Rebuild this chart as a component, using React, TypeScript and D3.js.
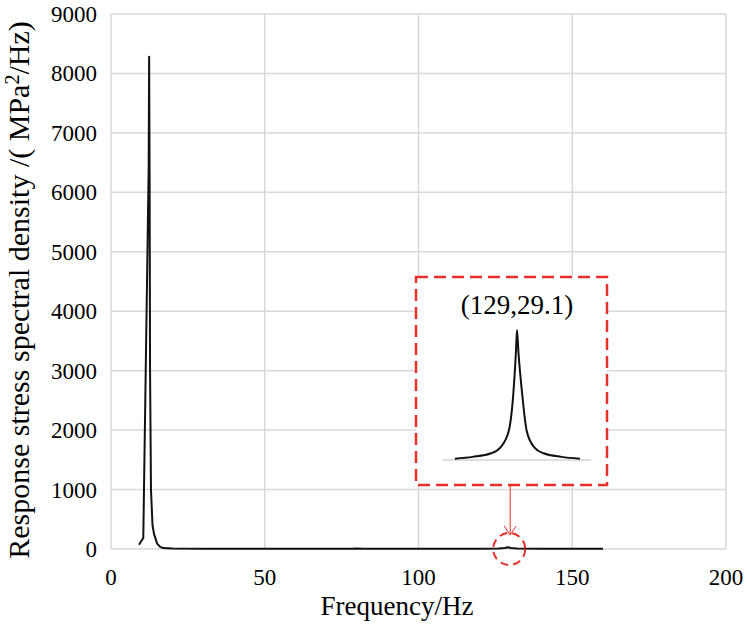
import { useEffect, useRef } from "react";
import * as d3 from "d3";

// main response spectrum (Hz, MPa^2/Hz)
const freq = [9.1, 10.5, 12.25, 12.4, 12.55, 12.7, 13.0, 13.5, 14.0, 15.0, 16.0, 17.0, 20, 30, 50, 70, 78, 80, 82, 100, 120, 126, 128, 129, 130, 132, 140, 160];
const psd = [70, 185, 6400, 8280, 6350, 3000, 1000, 400, 250, 90, 35, 15, 10, 6, 4, 4, 6, 9, 5, 4, 4, 8, 18, 29.1, 18, 8, 4, 3];

// zoomed detail around the 129 Hz peak
const insetFreq = [120.6, 123, 125.5, 126.8, 127.9, 128.5, 128.85, 129, 129.2, 129.7, 130.3, 131.3, 132.6, 135, 137.5];
const insetPsd = [0.3, 0.7, 1.5, 2.9, 6.6, 14.8, 24, 29.1, 24, 14.8, 6.6, 2.9, 1.5, 0.7, 0.3];

const xTicks = [0, 50, 100, 150, 200];
const yTicks = [0, 1000, 2000, 3000, 4000, 5000, 6000, 7000, 8000, 9000];

const peakLabel = "(129,29.1)";
const xTitle = "Frequency/Hz";

const W = 747;
const H = 626;
const font = "'Liberation Serif', 'Times New Roman', serif";
const red = "#e8302a";
const gridColor = "#d9d9d9";

export default function App() {
  const ref = useRef<SVGSVGElement>(null);

  useEffect(() => {
    const svg = d3.select(ref.current);
    svg.selectAll("*").remove();

    const x = d3.scaleLinear().domain([0, 200]).range([111, 726]);
    const y = d3.scaleLinear().domain([0, 9000]).range([549, 14]);

    const g = svg.append("g");

    // grid
    g.selectAll("line.gx")
      .data(xTicks)
      .join("line")
      .attr("x1", (d) => x(d))
      .attr("x2", (d) => x(d))
      .attr("y1", y(0))
      .attr("y2", y(9000))
      .attr("stroke", gridColor)
      .attr("stroke-width", 1.5);

    g.selectAll("line.gy")
      .data(yTicks)
      .join("line")
      .attr("x1", x(0))
      .attr("x2", x(200))
      .attr("y1", (d) => y(d))
      .attr("y2", (d) => y(d))
      .attr("stroke", gridColor)
      .attr("stroke-width", 1.5);

    // tick labels
    g.selectAll("text.xt")
      .data(xTicks)
      .join("text")
      .attr("x", (d) => x(d))
      .attr("y", 585)
      .attr("text-anchor", "middle")
      .attr("font-family", font)
      .attr("font-size", 23)
      .text((d) => d);

    g.selectAll("text.yt")
      .data(yTicks)
      .join("text")
      .attr("x", 97)
      .attr("y", (d) => y(d) + 8)
      .attr("text-anchor", "end")
      .attr("font-family", font)
      .attr("font-size", 23)
      .text((d) => d);

    // axis titles
    g.append("text")
      .attr("x", 397)
      .attr("y", 615)
      .attr("text-anchor", "middle")
      .attr("font-family", font)
      .attr("font-size", 27)
      .text(xTitle);

    const yt = g
      .append("text")
      .attr("transform", `translate(29,290) rotate(-90)`)
      .attr("text-anchor", "middle")
      .attr("font-family", font)
      .attr("font-size", 30);
    yt.append("tspan").text("Response stress spectral density /( MPa");
    yt.append("tspan").attr("dy", -10).attr("font-size", 20).text("2");
    yt.append("tspan").attr("dy", 10).text("/Hz)");

    // main curve
    const data = freq.map((f, i) => [f, psd[i]] as [number, number]);
    g.append("path")
      .datum(data)
      .attr("fill", "none")
      .attr("stroke", "#111")
      .attr("stroke-width", 2)
      .attr("stroke-linejoin", "round")
      .attr("d", d3.line<[number, number]>().x((d) => x(d[0])).y((d) => y(d[1])));

    // inset
    const ix = d3.scaleLinear().domain([119, 139]).range([443, 591]);
    const iy = d3.scaleLinear().domain([0, 29.1]).range([460, 330]);

    g.append("rect")
      .attr("x", 416)
      .attr("y", 277)
      .attr("width", 191)
      .attr("height", 208)
      .attr("fill", "white")
      .attr("stroke", red)
      .attr("stroke-width", 2.5)
      .attr("stroke-dasharray", "12,6");

    g.append("line")
      .attr("x1", ix(119))
      .attr("x2", ix(139))
      .attr("y1", iy(0))
      .attr("y2", iy(0))
      .attr("stroke", "#bbb")
      .attr("stroke-width", 1.2);

    const insetData = insetFreq.map((f, i) => [f, insetPsd[i]] as [number, number]);
    g.append("path")
      .datum(insetData)
      .attr("fill", "none")
      .attr("stroke", "#111")
      .attr("stroke-width", 2)
      .attr(
        "d",
        d3
          .line<[number, number]>()
          .x((d) => ix(d[0]))
          .y((d) => iy(d[1]))
          .curve(d3.curveMonotoneX)
      );

    g.append("text")
      .attr("x", ix(129))
      .attr("y", 314)
      .attr("text-anchor", "middle")
      .attr("font-family", font)
      .attr("font-size", 27)
      .text(peakLabel);

    // pointer to the small peak
    const cx = x(129.5);
    const cy = y(0);
    g.append("line")
      .attr("x1", cx + 1)
      .attr("x2", cx + 1)
      .attr("y1", 486)
      .attr("y2", 535)
      .attr("stroke", red)
      .attr("stroke-width", 1);
    g.append("polyline")
      .attr("points", `${cx - 5},${526} ${cx + 1},${535} ${cx + 7},${526}`)
      .attr("fill", "none")
      .attr("stroke", red)
      .attr("stroke-width", 1);
    g.append("circle")
      .attr("cx", cx)
      .attr("cy", cy)
      .attr("r", 16)
      .attr("fill", "none")
      .attr("stroke", red)
      .attr("stroke-width", 2)
      .attr("stroke-dasharray", "8,5");
  }, []);

  return (
    <svg
      ref={ref}
      width={W}
      height={H}
      style={{ position: "absolute", left: 0, top: 0, background: "white" }}
    ></svg>
  );
}
